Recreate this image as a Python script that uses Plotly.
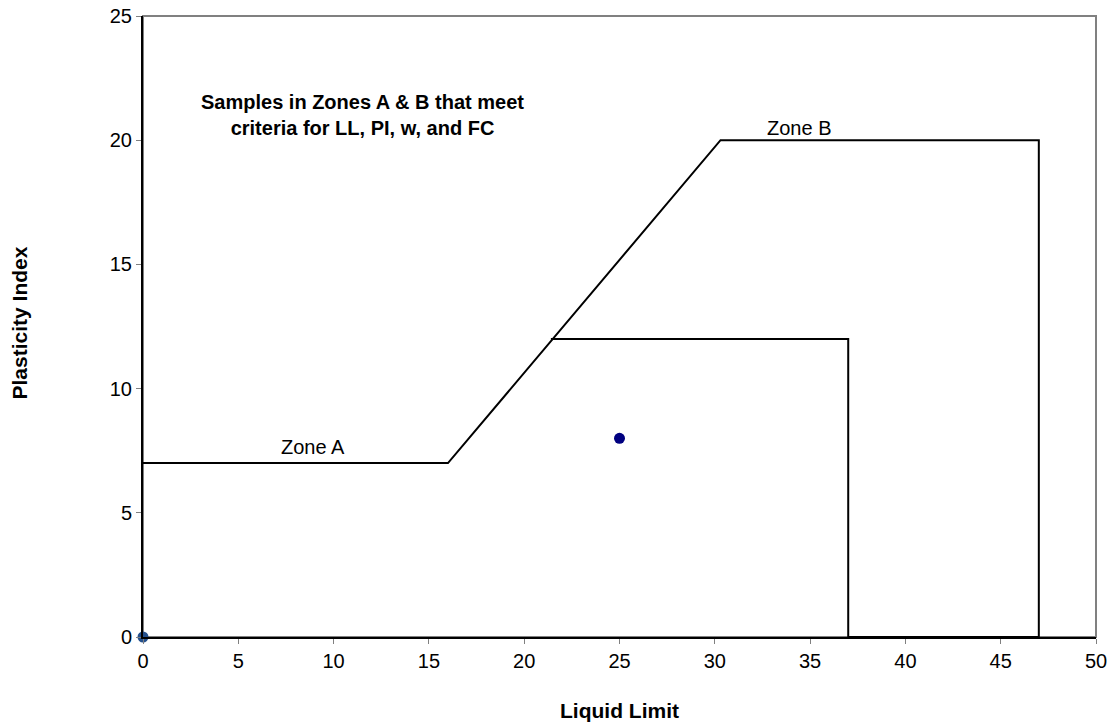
import plotly.graph_objects as go

# Zone boundary polyline (Liquid Limit, Plasticity Index)
zone_ll = [0, 16, 30.3, 47, 47, 37, 37, 21.4]
zone_pi = [7, 7, 20, 20, 0, 0, 12, 12]

# Samples
sample_ll = [25]
sample_pi = [8]
origin_ll = [0]
origin_pi = [0]

x_ticks = [0, 5, 10, 15, 20, 25, 30, 35, 40, 45, 50]
y_ticks = [0, 5, 10, 15, 20, 25]

font = "Liberation Sans, Arial, sans-serif"

fig = go.Figure()
fig.add_trace(go.Scatter(x=zone_ll, y=zone_pi, mode="lines",
                         line=dict(color="black", width=2), showlegend=False,
                         cliponaxis=False))
fig.add_trace(go.Scatter(x=sample_ll, y=sample_pi, mode="markers",
                         marker=dict(color="#000080", size=11), showlegend=False))
fig.add_trace(go.Scatter(x=origin_ll, y=origin_pi, mode="markers",
                         marker=dict(color="#25508c", size=11), showlegend=False,
                         cliponaxis=False))

fig.add_shape(type="rect", xref="paper", yref="paper", x0=0, y0=0, x1=1, y1=1,
              line=dict(color="#808080", width=2), layer="below")

fig.update_layout(
    width=1112, height=725,
    margin=dict(l=143, r=16, t=16, b=88),
    plot_bgcolor="white", paper_bgcolor="white",
    font=dict(family=font, size=20, color="black"),
    xaxis=dict(range=[0, 50], tickvals=x_ticks, ticks="outside", ticklen=5,
               tickcolor="#808080", showgrid=False, zeroline=False,
               showline=True, linecolor="black", linewidth=2,
               automargin=False, ticklabeloverflow="allow",
               tickfont=dict(size=20, family=font)),
    yaxis=dict(range=[0, 25], tickvals=y_ticks, ticks="outside", ticklen=5,
               tickcolor="#808080", showgrid=False, zeroline=False,
               showline=True, linecolor="black", linewidth=2,
               automargin=False, ticklabeloverflow="allow",
               tickfont=dict(size=20, family=font)),
    annotations=[
        dict(x=8.9, y=7.65, xref="x", yref="y", text="Zone A", showarrow=False,
             font=dict(size=20)),
        dict(x=34.4, y=20.5, xref="x", yref="y", text="Zone B", showarrow=False,
             font=dict(size=20)),
        dict(x=11.5, y=21.0, xref="x", yref="y",
             text="<b>Samples in Zones A & B that meet<br>criteria for LL, PI, w, and FC</b>",
             showarrow=False, font=dict(size=20)),
        dict(x=0.5, y=-0.1176, xref="paper", yref="paper", text="<b>Liquid Limit</b>",
             showarrow=False, font=dict(size=21), yanchor="middle"),
        dict(x=-0.130, y=0.505, xref="paper", yref="paper", text="<b>Plasticity Index</b>",
             textangle=-90, showarrow=False, font=dict(size=21), xanchor="center"),
    ],
)
fig.write_html("out.html", config={"displayModeBar": False},
               post_script="document.body.style.margin='0';document.body.style.overflow='hidden';")
